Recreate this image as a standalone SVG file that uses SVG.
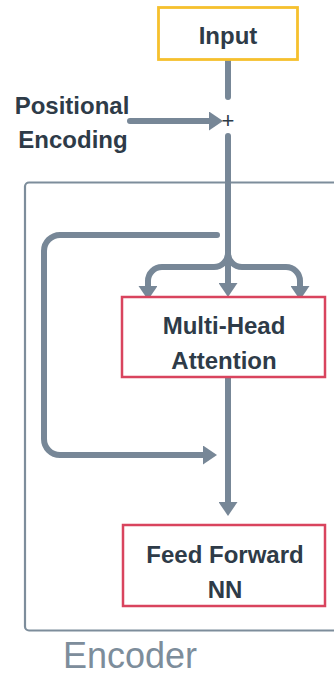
<svg xmlns="http://www.w3.org/2000/svg" width="334" height="676" viewBox="0 0 334 676">
<style>
.lbl{font-family:"Liberation Sans",Arial,sans-serif;font-weight:bold;font-size:24px;fill:#2e3b48;text-anchor:middle}
.conn{fill:none;stroke:#778797;stroke-width:6;stroke-linecap:round;stroke-linejoin:round}
.red{fill:#ffffff;stroke:#d9445e;stroke-width:2.5}
</style>
<defs>
<marker id="ah" markerUnits="userSpaceOnUse" viewBox="0 0 14 19" refX="0" refY="9.5" markerWidth="14" markerHeight="19" orient="auto">
<path d="M0,0 L14,9.5 L0,19 Z" fill="#778797"/>
</marker>
</defs>
<rect width="334" height="676" fill="#ffffff"/>
<g id="encoder">
<rect x="25" y="182.5" width="330" height="448" rx="4" fill="none" stroke="#7d8d9b" stroke-width="2.2"/>
<text x="63" y="667.5" font-family="Liberation Sans, Arial, sans-serif" font-size="36" fill="#7d8d9b">Encoder</text>
</g>
<g id="connectors">
<path class="conn" d="M228,60 L228,97"/>
<path class="conn" d="M130,121 L209,121" marker-end="url(#ah)"/>
<path class="conn" d="M228,136 L228,283" marker-end="url(#ah)"/>
<path class="conn" d="M228,253 A14,14 0 0 1 214,267 L162,267 A14,14 0 0 0 148,281 L148,286" marker-end="url(#ah)"/>
<path class="conn" d="M228,253 A14,14 0 0 0 242,267 L286,267 A14,14 0 0 1 300,281 L300,286" marker-end="url(#ah)"/>
<path class="conn" d="M217,235 L60,235 A16,16 0 0 0 44,251 L44,439 A16,16 0 0 0 60,455 L203,455" marker-end="url(#ah)"/>
<path class="conn" d="M228,377 L228,502" marker-end="url(#ah)"/>
</g>
<g id="input">
<rect x="158.5" y="7.5" width="139" height="52" fill="#ffffff" stroke="#f6c02e" stroke-width="2.8"/>
<text class="lbl" x="228" y="44">Input</text>
</g>
<g id="positional">
<text class="lbl" x="72" y="114">Positional</text>
<text class="lbl" x="73" y="148">Encoding</text>
</g>
<g id="plus">
<text x="228" y="127.5" font-family="Liberation Sans, Arial, sans-serif" font-size="22" fill="#2e3b48" text-anchor="middle">+</text>
</g>
<g id="mha">
<rect class="red" x="122" y="297" width="203" height="80"/>
<text class="lbl" x="224" y="334">Multi-Head</text>
<text class="lbl" x="224" y="369">Attention</text>
</g>
<g id="ffn">
<rect class="red" x="123" y="525" width="202" height="81"/>
<text class="lbl" x="225" y="563">Feed Forward</text>
<text class="lbl" x="225" y="598">NN</text>
</g>
</svg>
